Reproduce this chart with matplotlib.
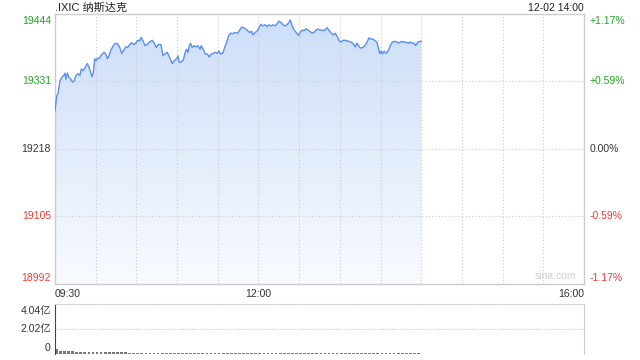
import matplotlib
matplotlib.use("Agg")
import matplotlib.pyplot as plt
import numpy as np
from matplotlib.patches import Polygon
from matplotlib.colors import LinearSegmentedColormap

# minutes after 09:30, index level
minutes = [0, 1.3, 2.2, 3.7, 5.4, 6.6, 7.4, 8.1, 9.1, 10.3, 11.6, 12.8, 14, 15.5, 17, 18.4,
           19.4, 20.9, 22.3, 23.8, 25.1, 26.3, 27.3, 28.2, 29.3, 30.2, 31.2, 32.4, 33.7,
           34.9, 36.1, 37.4, 38.6, 39.8, 41.1, 43, 44.7, 46.2, 47.7, 49.2, 50.6, 52.1, 53.6,
           55.1, 56.5, 58, 59.5, 61, 62.4, 63.4, 64.9, 66.3, 68.3, 70.2, 71.7, 73.2, 74.7,
           76.1, 78.1, 79.6, 81.1, 82.6, 84, 85.5, 86.5, 87.9, 89.7, 90.7, 91.6, 93.1, 94.6,
           96, 97.1, 98, 99, 100, 101, 102.5, 103.9, 105.4, 106.9, 107.8, 109.3, 110.8,
           112.3, 113.7, 115.2, 116.7, 118.2, 119.6, 120.7, 122.1, 123.6, 125.1, 126.6, 128,
           129.5, 131, 132.5, 134.7, 136.1, 137.6, 139.1, 140.6, 142, 143.5, 145, 145.9,
           147.4, 148.9, 150.4, 151.8, 153.3, 154.8, 156.3, 157.7, 159.2, 160.7, 162.2,
           163.6, 165.1, 166.6, 168.1, 169.5, 171, 172.5, 173.4, 174.9, 176.4, 177.9, 179.6,
           180.6, 182.1, 183.5, 185, 186.5, 188, 189.4, 190.9, 192.4, 193.9, 195.3, 196.8,
           198.3, 199.8, 200.7, 202.2, 203.7, 205.1, 206.6, 208.1, 209.6, 211, 212.5, 214,
           215.5, 216.9, 218.4, 219.9, 221.4, 222.4, 223.3, 224.6, 225.6, 227, 228.5, 230,
           231.5, 232.9, 234.4, 235.9, 237.3, 238.3, 239.3, 240.3, 241.3, 242.7, 244.2,
           245.7, 247.2, 248.6, 250.1, 251.6, 253.1, 254.5, 256, 257.5, 258.9, 260.4, 261.9,
           263.4, 264.8, 265.9, 267.4, 268.8, 270]
prices = [19282, 19307, 19311, 19332, 19339, 19341, 19345, 19335, 19345, 19338, 19335, 19330,
          19332, 19341, 19344, 19341, 19352, 19349, 19355, 19361, 19355, 19346, 19339, 19345,
          19369, 19366, 19370, 19369, 19374, 19377, 19380, 19377, 19369, 19374, 19383, 19391,
          19395, 19394, 19388, 19378, 19383, 19389, 19388, 19393, 19396, 19393, 19395, 19400,
          19399, 19405, 19399, 19391, 19394, 19398, 19400, 19395, 19388, 19393, 19393, 19374,
          19377, 19380, 19374, 19366, 19361, 19366, 19369, 19374, 19363, 19364, 19367, 19380,
          19385, 19380, 19391, 19395, 19388, 19391, 19389, 19391, 19385, 19391, 19385, 19377,
          19377, 19372, 19377, 19378, 19380, 19378, 19382, 19377, 19378, 19388, 19397, 19408,
          19412, 19411, 19413, 19412, 19417, 19422, 19421, 19419, 19416, 19413, 19415, 19409,
          19413, 19415, 19421, 19427, 19424, 19426, 19423, 19426, 19424, 19426, 19424, 19427,
          19432, 19430, 19426, 19424, 19426, 19430, 19434, 19424, 19417, 19413, 19408, 19413,
          19417, 19416, 19419, 19417, 19415, 19412, 19413, 19417, 19419, 19417, 19417, 19416,
          19419, 19421, 19416, 19412, 19409, 19412, 19406, 19399, 19397, 19400, 19400, 19399,
          19398, 19397, 19394, 19389, 19395, 19393, 19388, 19387, 19388, 19391, 19397, 19404,
          19402, 19402, 19399, 19397, 19388, 19378, 19382, 19377, 19382, 19378, 19383, 19391,
          19397, 19398, 19398, 19395, 19397, 19398, 19397, 19397, 19395, 19397, 19395, 19395,
          19391, 19397, 19398, 19398]

# volume per 3-minute block, in 亿
vol_minutes = list(range(1, 270, 3))
volumes = [0.42, 0.27, 0.24, 0.22, 0.21, 0.2, 0.19, 0.18, 0.18, 0.17, 0.16, 0.16, 0.15, 0.15,
           0.14, 0.14, 0.13, 0.13, 0.12, 0.12, 0.12, 0.11, 0.11, 0.11, 0.1, 0.1, 0.1, 0.1,
           0.09, 0.09, 0.09, 0.09, 0.08, 0.08, 0.08, 0.08, 0.08, 0.07, 0.07, 0.08, 0.07, 0.07,
           0.07, 0.07, 0.07, 0.06, 0.07, 0.07, 0.06, 0.06, 0.07, 0.06, 0.06, 0.06, 0.07, 0.06,
           0.06, 0.06, 0.06, 0.06, 0.06, 0.07, 0.06, 0.06, 0.06, 0.06, 0.06, 0.06, 0.06, 0.06,
           0.06, 0.06, 0.06, 0.06, 0.06, 0.06, 0.06, 0.06, 0.06, 0.06, 0.06, 0.06, 0.06, 0.06,
           0.06, 0.06, 0.06, 0.06, 0.06, 0.06]

price_ticks = [19444, 19331, 19218, 19105, 18992]
pct_ticks = ["+1.17%", "+0.59%", "0.00%", "-0.59%", "-1.17%"]
vol_ticks = [0, 2.02, 4.04]
vol_labels = ["0", "2.02亿", "4.04亿"]

GREEN = "#1fa81f"
RED = "#f03a3a"
DARK = "#333333"
GRID = "#cccccc"
FONT = ["Liberation Sans", "Noto Sans CJK SC"]
plt.rcParams["font.family"] = FONT

fig = plt.figure(figsize=(6.4, 3.6), dpi=100)
ax = fig.add_axes([55 / 640, 1 - 284 / 360, 529 / 640, 270 / 360])
vax = fig.add_axes([55 / 640, 1 - 354 / 360, 529 / 640, 50 / 360])

ymin, ymax = price_ticks[-1], price_ticks[0]
ax.set_xlim(0, 390)
ax.set_ylim(ymin, ymax)

# gradient fill under the line
cmap = LinearSegmentedColormap.from_list("g", [(0.975, 0.982, 1.0), (0.80, 0.87, 0.975)])
grad = np.linspace(0, 1, 256).reshape(-1, 1)
im = ax.imshow(grad, extent=[0, 390, ymin, ymax], origin="lower", cmap=cmap,
               aspect="auto", zorder=1)
verts = [(minutes[0], ymin)] + list(zip(minutes, prices)) + [(minutes[-1], ymin)]
patch = Polygon(verts, closed=True, facecolor="none", edgecolor="none")
ax.add_patch(patch)
im.set_clip_path(patch)
ax.plot(minutes, prices, color="#5b8ff0", lw=1.0, zorder=3)

for t in range(30, 390, 30):
    ax.axvline(t, color=GRID, lw=0.8, ls=(0, (1, 2)), zorder=2)
for p in price_ticks[1:-1]:
    ax.axhline(p, color=GRID, lw=0.8, ls=(0, (1, 2)), zorder=2)
ax.set_xticks([])
ax.set_yticks([])
for s in ax.spines.values():
    s.set_color(GRID)
    s.set_linewidth(1.0)

# axis labels
colors = [GREEN, GREEN, DARK, RED, RED]
offsets = [-4.8, 0, 0, 0, 4.5]
for p, pct, c, off in zip(price_ticks, pct_ticks, colors, offsets):
    ax.annotate(str(p), (0, p), xycoords=("axes fraction", "data"), xytext=(-3, off),
                textcoords="offset points", ha="right", va="center", color=c, fontsize=7.5)
    ax.annotate(pct, (1, p), xycoords=("axes fraction", "data"), xytext=(4, off),
                textcoords="offset points", ha="left", va="center", color=c, fontsize=7.5)

ax.text(0, 1.005, ".IXIC 纳斯达克", transform=ax.transAxes, ha="left", va="bottom",
        fontsize=8, color="#222222")
ax.text(1, 1.005, "12-02 14:00", transform=ax.transAxes, ha="right", va="bottom",
        fontsize=7.5, color="#222222")
ax.text(0, -0.02, "09:30", transform=ax.transAxes, ha="left", va="top", fontsize=7.5, color=DARK)
ax.text(150 / 390, -0.02, "12:00", transform=ax.transAxes, ha="center", va="top",
        fontsize=7.5, color=DARK)
ax.text(1, -0.02, "16:00", transform=ax.transAxes, ha="right", va="top", fontsize=7.5, color=DARK)
ax.text(0.985, 0.01, "sina.com", transform=ax.transAxes, ha="right", va="bottom",
        fontsize=7.5, color="#d0d0d0")

# volume panel
vax.set_xlim(0, 390)
vax.set_ylim(0, vol_ticks[-1])
vax.bar(vol_minutes, volumes, width=2.0, color="#777777", align="center")
vax.axhline(vol_ticks[1], color=GRID, lw=0.8, ls=(0, (1, 1.5)))
vax.set_xticks([])
vax.set_yticks([])
vax.spines["top"].set_color(GRID)
vax.spines["top"].set_linestyle((0, (1, 1.5)))
vax.spines["bottom"].set_visible(False)
vax.spines["right"].set_color(GRID)
vax.spines["left"].set_color("#444444")
voffs = [4, 0, -5]
for v, lab, off in zip(vol_ticks, vol_labels, voffs):
    vax.annotate(lab, (0, v), xycoords=("axes fraction", "data"), xytext=(-3, off),
                 textcoords="offset points", ha="right", va="center", color=DARK, fontsize=7.5)

fig.savefig("out.png", dpi=100)
